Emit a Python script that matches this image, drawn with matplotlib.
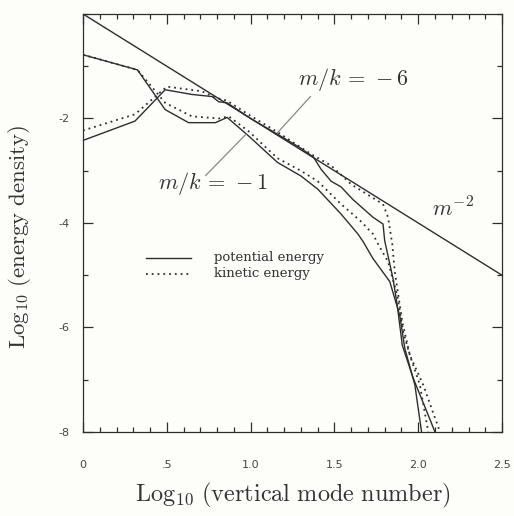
import numpy as np
import matplotlib.pyplot as plt
from matplotlib.ticker import MultipleLocator

plt.rcParams['mathtext.fontset'] = 'cm'

# m^-2 reference line
ref_x = [0.0, 2.5]
ref_y = [0.0, -5.0]

# m/k = -1, potential energy (solid)
pot1_x = [0.0, 0.325, 0.49, 0.63, 0.79, 0.86, 0.99, 1.16, 1.30, 1.40, 1.54, 1.64, 1.67,
          1.73, 1.83, 1.89, 1.92, 1.98, 2.02]
pot1_y = [-0.78, -1.07, -1.83, -2.08, -2.08, -1.98, -2.34, -2.84, -3.10, -3.35, -3.83, -4.21, -4.35,
          -4.68, -5.12, -5.77, -6.4, -7.1, -8.0]

# m/k = -1, kinetic energy (dotted)
kin1_x = [0.0, 0.325, 0.375, 0.49, 0.65, 0.81, 0.87, 0.99, 1.16, 1.30, 1.40, 1.54, 1.655,
          1.73, 1.76, 1.82, 1.875, 1.91, 1.95, 2.01, 2.06]
kin1_y = [-0.78, -1.07, -1.26, -1.70, -1.96, -2.0, -1.96, -2.25, -2.76, -3.0, -3.2, -3.64, -3.96,
          -4.21, -4.4, -4.74, -5.39, -6.08, -6.53, -7.1, -8.0]

# m/k = -6, potential energy (solid)
pot6_x = [0.0, 0.31, 0.49, 0.65, 0.77, 0.81, 0.86, 1.0, 1.16, 1.30, 1.375, 1.42, 1.48, 1.54,
          1.61, 1.73, 1.79, 1.80, 1.85, 1.875, 1.905, 1.97, 2.05, 2.10]
pot6_y = [-2.42, -2.05, -1.45, -1.54, -1.58, -1.68, -1.70, -2.0, -2.3, -2.57, -2.74, -2.97, -3.2, -3.31,
          -3.55, -3.89, -4.02, -4.34, -5.07, -5.58, -6.34, -6.97, -7.6, -8.0]

# m/k = -6, kinetic energy (dotted)
kin6_x = [0.0, 0.31, 0.50, 0.71, 0.79, 0.86, 1.0, 1.16, 1.37, 1.48, 1.60, 1.79, 1.82, 1.845,
          1.86, 1.905, 1.95, 2.03, 2.13]
kin6_y = [-2.23, -1.92, -1.39, -1.48, -1.60, -1.66, -1.95, -2.26, -2.70, -2.9, -3.26, -3.64, -3.89, -4.4,
          -4.93, -5.89, -6.53, -7.1, -8.0]

xticks = [0, 0.5, 1.0, 1.5, 2.0, 2.5]
xticklabels = ['0', '.5', '1.0', '1.5', '2.0', '2.5']
yticks = [-8, -6, -4, -2]
yticklabels = ['-8', '-6', '-4', '-2']

ink = '#2e2e2e'
solid = dict(color=ink, lw=1.0, linestyle='-')
dotted = dict(color=ink, lw=1.3, linestyle=(0, (1, 2.2)))

fig = plt.figure(figsize=(5.14, 5.16), dpi=100, facecolor='#fdfdf9')
ax = fig.add_axes([0.1615, 0.1628, 0.8152, 0.8101])
ax.set_facecolor('#fdfdf9')

ax.plot(ref_x, ref_y, **solid)
ax.plot(pot1_x, pot1_y, **solid)
ax.plot(kin1_x, kin1_y, **dotted)
ax.plot(pot6_x, pot6_y, **solid)
ax.plot(kin6_x, kin6_y, **dotted)

ax.set_xlim(0, 2.5)
ax.set_ylim(-8, 0)
ax.set_xticks(xticks)
ax.set_xticklabels(xticklabels)
ax.set_yticks(yticks)
ax.set_yticklabels(yticklabels)
ax.xaxis.set_minor_locator(MultipleLocator(0.1))
ax.yaxis.set_minor_locator(MultipleLocator(1))
ax.tick_params(which='both', direction='in', top=True, right=True, color=ink, width=0.9,
               labelsize=8, labelcolor='#444444')
ax.tick_params(which='major', length=7)
ax.tick_params(which='minor', length=3.5)
ax.tick_params(axis='x', pad=20)
ax.tick_params(axis='y', pad=10)
for s in ax.spines.values():
    s.set_color(ink)
    s.set_linewidth(0.9)

# annotations
ax.plot([0.732, 0.976], [-3.09, -2.29], color='#888888', lw=0.9)
ax.plot([1.357, 1.161], [-1.58, -2.27], color='#888888', lw=0.9)
ax.text(0.45, -3.25, r'$m/k\,=\,-1$', fontsize=16, color='#333333', va='center', ha='left')
ax.text(1.28, -1.25, r'$m/k\,=\,-6$', fontsize=16, color='#333333', va='center', ha='left')
ax.text(2.08, -3.73, r'$m^{-2}$', fontsize=16, color='#333333', va='center', ha='left')

# legend
ax.plot([0.375, 0.643], [-4.67, -4.67], **solid)
ax.plot([0.375, 0.643], [-4.97, -4.97], **dotted)
ax.text(0.78, -4.67, 'potential energy', fontsize=9.5, family='DejaVu Serif',
        color='#333333', va='center')
ax.text(0.78, -4.97, 'kinetic energy', fontsize=9.5, family='DejaVu Serif',
        color='#333333', va='center')

ax.set_xlabel(r'$\mathrm{Log_{10}\ (vertical\ mode\ number)}$', fontsize=17.5,
              color='#333333', labelpad=8)
ax.set_ylabel(r'$\mathrm{Log_{10}\ (energy\ density)}$', fontsize=16.5,
              color='#333333')
ax.yaxis.set_label_coords(-0.12, 0.466)

fig.savefig('out.png', dpi=100, facecolor=fig.get_facecolor())
